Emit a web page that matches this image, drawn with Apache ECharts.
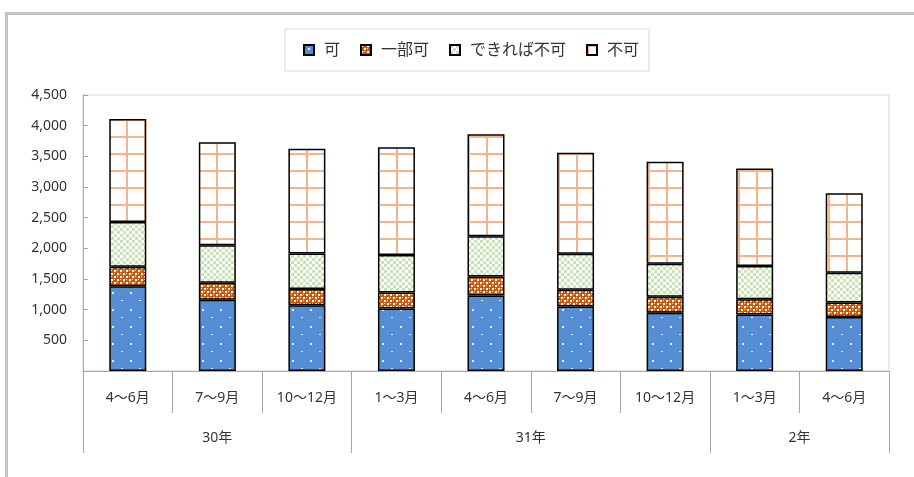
<!DOCTYPE html>
<html>
<head>
<meta charset="utf-8">
<script src="https://cdn.jsdelivr.net/npm/echarts@6/dist/echarts.min.js"></script>
<style>
html,body{margin:0;padding:0;width:914px;height:477px;overflow:hidden;background:#fff;}
#frame{position:absolute;left:5px;top:12px;width:920px;height:480px;border:3px solid #c4c4c4;box-sizing:border-box;}
#chart{position:absolute;left:0;top:0;width:914px;height:477px;}
</style>
</head>
<body>
<div id="frame"></div>
<div id="chart"></div>
<script>
// ---- data ----
const categories = ['4～6月','7～9月','10～12月','1～3月','4～6月','7～9月','10～12月','1～3月','4～6月'];
const groups = ['30年','31年','2年'];
const groupSizes = [3, 4, 2];
const seriesNames = ['可','一部可','できれば不可','不可'];
const valKa      = [1380, 1160, 1070, 1020, 1230, 1050, 950, 920, 880];
const valIchibu  = [ 320,  280,  265,  260,  310,  275, 260, 250, 235];
const valDekireba= [ 730,  610,  580,  610,  655,  585, 540, 540, 485];
const valFuka    = [1680, 1680, 1710, 1760, 1665, 1650, 1660, 1590, 1300];
const yTicks = [0, 500, 1000, 1500, 2000, 2500, 3000, 3500, 4000, 4500];

// ---- patterns ----
function pat(w, h, draw) {
  const c = document.createElement('canvas');
  c.width = w; c.height = h;
  const g = c.getContext('2d');
  draw(g);
  return { image: c, repeat: 'repeat' };
}
const pBlue = pat(18, 17, g => {
  g.fillStyle = '#558ed5'; g.fillRect(0, 0, 18, 17);
  g.fillStyle = '#e8f0fb';
  g.fillRect(4, 3, 2, 2);
  g.fillRect(13, 11, 2, 1);
});
const pBrown = pat(6, 6, g => {
  g.fillStyle = '#c55a11'; g.fillRect(0, 0, 6, 6);
  g.fillStyle = '#ffffff';
  g.fillRect(0, 0, 2, 2); g.fillRect(3, 3, 2, 2);
  g.fillRect(3, 0, 1, 1); g.fillRect(0, 3, 1, 1);
});
const pGreen = pat(6, 6, g => {
  g.fillStyle = '#ffffff'; g.fillRect(0, 0, 6, 6);
  g.fillStyle = '#c9e2b8';
  g.fillRect(0, 0, 3, 3); g.fillRect(3, 3, 3, 3);
});
const pGrid = pat(18, 17, g => {
  g.fillStyle = '#ffffff'; g.fillRect(0, 0, 18, 17);
  g.fillStyle = '#f6b48a';
  g.fillRect(0, 0, 18, 2); g.fillRect(0, 0, 2, 17);
});

// group axis built on half-category slots
const halfSlots = [];
const groupBoundaries = [0];
let acc = 0;
const nSlots = categories.length * 2 + 1;
for (let i = 0; i < nSlots; i++) halfSlots.push('');
groups.forEach((gname, i) => {
  const center = acc * 2 + groupSizes[i];
  halfSlots[center] = gname;
  acc += groupSizes[i];
  groupBoundaries.push(acc * 2);
});

const font = "'Noto Sans', 'Noto Sans CJK JP', sans-serif";
const fills = [pBlue, pBrown, pGreen, pGrid];
const vals = [valKa, valIchibu, valDekireba, valFuka];

const chart = echarts.init(document.getElementById('chart'), null, { renderer: 'canvas' });
chart.setOption({
  animation: false,
  textStyle: { fontFamily: font },
  legend: {
    left: 285, top: 29,
    padding: [13, 10, 13, 18],
    borderColor: '#d9d9d9', borderWidth: 1,
    itemWidth: 10, itemHeight: 10, itemGap: 20,
    icon: 'rect',
    textStyle: { fontSize: 16, color: '#333', fontFamily: font, padding: [0, 0, 0, 5] },
    data: seriesNames
  },
  grid: {
    left: 83, right: 25, top: 95, bottom: 106,
    show: true, borderColor: '#d9d9d9', borderWidth: 1, containLabel: false
  },
  xAxis: [
    {
      type: 'category', data: categories, position: 'bottom',
      axisLine: { lineStyle: { color: '#a6a6a6', width: 1 } },
      axisTick: { show: true, length: 42, lineStyle: { color: '#a6a6a6' } },
      axisLabel: { margin: 20, fontSize: 14, color: '#333', interval: 0, fontFamily: font }
    },
    {
      type: 'category', data: halfSlots, position: 'bottom', boundaryGap: false,
      axisLine: { show: false },
      axisTick: {
        show: true, length: 82, lineStyle: { color: '#a6a6a6' },
        interval: (idx) => groupBoundaries.indexOf(idx) >= 0
      },
      axisLabel: {
        margin: 60, fontSize: 14, color: '#333', fontFamily: font,
        interval: (idx, v) => v !== ''
      }
    }
  ],
  yAxis: {
    type: 'value', min: 0, max: 4500, interval: 500,
    axisLine: { show: true, lineStyle: { color: '#a6a6a6' } },
    axisTick: { show: true, inside: true, length: 5, lineStyle: { color: '#a6a6a6' } },
    splitLine: { show: false },
    axisLabel: {
      fontSize: 14, color: '#333', margin: 16, fontFamily: font,
      formatter: v => (yTicks.indexOf(v) > 0 ? v.toLocaleString('en-US') : '')
    }
  },
  series: seriesNames.map((name, i) => ({
    name, type: 'bar', stack: 'total', xAxisIndex: 0,
    barWidth: 37,
    data: vals[i],
    itemStyle: { color: fills[i], borderColor: '#000', borderWidth: 1.5 }
  }))
});
</script>
</body>
</html>
